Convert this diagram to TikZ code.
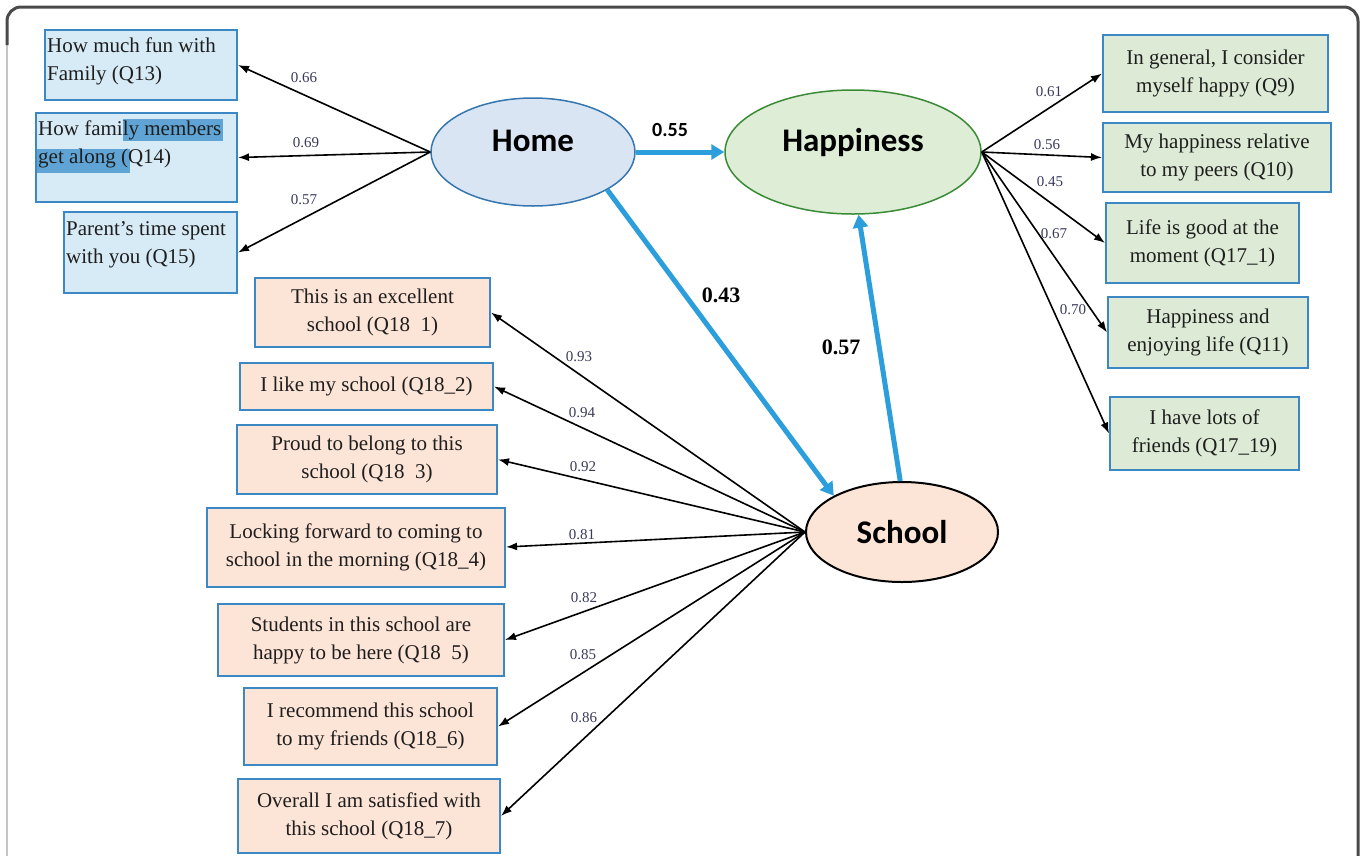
\documentclass[tikz,border=0pt]{standalone}
\usepackage{fontspec}
\setmainfont{Liberation Serif}
\newfontfamily\calib{Carlito}
\usetikzlibrary{arrows.meta,shapes.geometric,calc}
\definecolor{bbord}{HTML}{3C88C5}
\definecolor{hfill}{HTML}{D7EBF7}
\definecolor{gfill}{HTML}{DDEBD6}
\definecolor{sfill}{HTML}{FCE4D6}
\definecolor{homefill}{HTML}{DAE5F3}
\definecolor{homebord}{HTML}{3576AE}
\definecolor{hapfill}{HTML}{DDEDD6}
\definecolor{hapbord}{HTML}{3B8A35}
\definecolor{pathblue}{HTML}{2B9EDB}
\definecolor{lbl}{HTML}{3A3A5C}
\definecolor{txt}{HTML}{1E1E1E}
\definecolor{hilite}{HTML}{5FA4D4}
\definecolor{framedark}{HTML}{4A4A4A}
\definecolor{framelight}{HTML}{C4C4C4}
\begin{document}
\begin{tikzpicture}[x=1pt,y=-1pt,
  qbox/.style={draw=bbord, line width=2pt, inner sep=0pt, font=\fontsize{21}{28}\selectfont, text=txt},
  hbox/.style={qbox, fill=hfill},
  gbox/.style={qbox, fill=gfill, align=center},
  sbox/.style={qbox, fill=sfill, align=center},
  htext/.style={inner sep=0pt, anchor=north west, align=left, font=\fontsize{21}{28}\selectfont, text=txt},
  lat/.style={ellipse, inner sep=0pt, line width=1.5pt, font=\calib\bfseries\fontsize{33}{40}\selectfont, text=black},
  raised/.style={text height=23pt, text depth=25pt},
  load/.style={draw=black, line width=1.6pt, -{Latex[length=11pt,width=8pt]}},
  spath/.style={draw=pathblue, line width=5pt, -{Triangle[length=13pt,width=15pt]}},
  coef/.style={inner sep=0pt, font=\fontsize{15}{18}\selectfont, text=lbl},
  bcoef/.style={inner sep=0pt, font=\bfseries\fontsize{22}{26}\selectfont, text=black},
]
\useasboundingbox (0,0) rectangle (1368,855);
% frame
\draw[framelight, line width=2pt] (7,40) -- (7,870);
\draw[framedark, line width=3pt, rounded corners=14pt] (7,45) -- (7,7) -- (1358,7) -- (1358,870);

% latent variables
\node[lat, raised, draw=homebord, fill=homefill, minimum width=204pt, minimum height=108pt] (home) at (533,152) {Home};
\node[lat, raised, draw=hapbord, fill=hapfill, minimum width=256pt, minimum height=124pt] (hap) at (853,152) {Happiness};
\node[lat, draw=black, line width=2pt, fill=sfill, minimum width=192pt, minimum height=100pt] (school) at (902,532) {School};

% home indicators
\node[hbox, minimum width=192pt, minimum height=70pt] (h1) at (141,65) {};
\node[hbox, minimum width=201pt, minimum height=89pt] (h2) at (136.5,157.5) {};
\node[hbox, minimum width=173pt, minimum height=81pt] (h3) at (150.5,252.5) {};
\fill[hilite] (123,119) rectangle (223,141);
\fill[hilite] (37,149) rectangle (130,173);
\node[htext] (h1t) at (47,38) {How much fun with\\Family (Q13)};
\node[htext] (h2t) at (38,121) {How family members\\get along (Q14)};
\node[htext] (h3t) at (66,221) {Parent's time spent\\with you (Q15)};

% happiness indicators
\node[gbox, minimum width=225pt, minimum height=77pt] (g1) at (1215.5,73.5) {In general, I consider\\myself happy (Q9)};
\node[gbox, minimum width=228pt, minimum height=69pt] (g2) at (1217,157.5) {My happiness relative\\to my peers (Q10)};
\node[gbox, minimum width=193pt, minimum height=80pt] (g3) at (1202.5,243) {Life is good at the\\moment (Q17\_1)};
\node[gbox, minimum width=200pt, minimum height=71pt] (g4) at (1208,332.5) {Happiness and\\enjoying life (Q11)};
\node[gbox, minimum width=189pt, minimum height=73pt] (g5) at (1204.5,433.5) {I have lots of\\friends (Q17\_19)};

% school indicators
\node[sbox, minimum width=235pt, minimum height=69pt] (s1) at (372.5,312.5) {This is an excellent\\school (Q18\ \ 1)};
\node[sbox, minimum width=253pt, minimum height=47pt] (s2) at (366.5,386.5) {I like my school (Q18\_2)};
\node[sbox, minimum width=260pt, minimum height=69pt] (s3) at (367,459.5) {Proud to belong to this\\school (Q18\ \ 3)};
\node[sbox, minimum width=298pt, minimum height=79pt] (s4) at (356,547) {Locking forward to coming to\\school in the morning (Q18\_4)};
\node[sbox, minimum width=286pt, minimum height=72pt] (s5) at (361,640) {Students in this school are\\happy to be here (Q18\ \ 5)};
\node[sbox, minimum width=253pt, minimum height=77pt] (s6) at (370.5,726.5) {I recommend this school\\to my friends (Q18\_6)};
\node[sbox, minimum width=262pt, minimum height=74pt] (s7) at (369,816) {Overall I am satisfied with\\this school (Q18\_7)};

% loadings: home
\draw[load] (home.west) -- (h1.east);
\draw[load] (home.west) -- (h2.east);
\draw[load] (home.west) -- (h3.east);
\node[coef] (c66) at (304,78) {0.66};
\node[coef] (c69) at (306,143) {0.69};
\node[coef] (c57) at (304,200) {0.57};

% loadings: happiness
\draw[load] (hap.east) -- (g1.west);
\draw[load] (hap.east) -- (g2.west);
\draw[load] (hap.east) -- (g3.west);
\draw[load] (hap.east) -- (g4.west);
\draw[load] (hap.east) -- (g5.west);
\node[coef] (c61) at (1049,92) {0.61};
\node[coef] (c56) at (1047,145) {0.56};
\node[coef] (c45) at (1050,182) {0.45};
\node[coef] (c67) at (1054,234) {0.67};
\node[coef] (c70) at (1073,310) {0.70};

% loadings: school
\draw[load] (school.west) -- (s1.east);
\draw[load] (school.west) -- (s2.east);
\draw[load] (school.west) -- (s3.east);
\draw[load] (school.west) -- (s4.east);
\draw[load] (school.west) -- (s5.east);
\draw[load] (school.west) -- (s6.east);
\draw[load] (school.west) -- (s7.east);
\node[coef] (c93) at (579,357) {0.93};
\node[coef] (c94) at (582,413) {0.94};
\node[coef] (c92) at (583,467) {0.92};
\node[coef] (c81) at (582,535) {0.81};
\node[coef] (c82) at (584,598) {0.82};
\node[coef] (c85) at (583,655) {0.85};
\node[coef] (c86) at (584,718) {0.86};

% structural paths
\draw[spath] (home.east) -- (hap.west);
\draw[spath] (home.-27) -- (school.152);
\draw[spath] (school.92) -- (hap.-85);
\node[inner sep=0pt, font=\calib\bfseries\fontsize{20}{24}\selectfont] (p55) at (670,130) {0.55};
\node[bcoef] (p43) at (721,295) {0.43};
\node[bcoef] (p57) at (841,347) {0.57};
\end{tikzpicture}
\end{document}
